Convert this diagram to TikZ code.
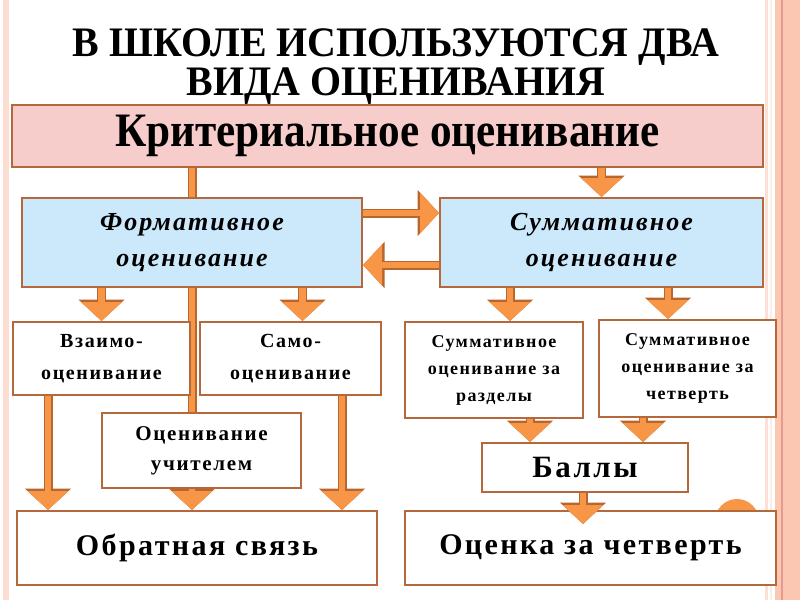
\documentclass[tikz,border=0pt]{standalone}
\usepackage{fontspec}
\setmainfont{Liberation Serif}
\newfontfamily\titlefont{Liberation Serif}[FakeStretch=0.95]
\newfontfamily\critfont{Liberation Serif}[FakeStretch=0.9]
\newfontfamily\boxfont{Liberation Serif}[LetterSpace=8]
\usetikzlibrary{arrows.meta,backgrounds}
\definecolor{arrorange}{HTML}{F79646}
\definecolor{arrbrown}{HTML}{B8652E}
\definecolor{boxbrown}{HTML}{B4683C}
\definecolor{critpink}{HTML}{F6CDCB}
\definecolor{formblue}{HTML}{CCE9FB}
\definecolor{bandpink}{HTML}{FBC6B2}
\tikzset{
  box/.style={draw=boxbrown, line width=2pt, fill=white, align=center,
    inner sep=0pt, font=\boxfont\bfseries},
  blockarrow/.style={line width=6.5pt, draw=arrorange,
    -{Triangle[length=19pt,width=40pt]},
    preaction={draw=arrbrown, line width=9pt, -{Triangle[length=21.5pt,width=45pt]}}},
}
\begin{document}
\begin{tikzpicture}[x=1pt, y=-1pt]
  \useasboundingbox (0,0) rectangle (800,600);
  % Slide frame
  \fill[bandpink!60] (3,0) rectangle (9,600);
  \fill[bandpink!55] (765,0) rectangle (768,600);
  \fill[bandpink!35] (770,0) rectangle (772,600);
  \fill[bandpink] (775,0) rectangle (800,600);
  \fill[bandpink!80!red!90!black!90] (781,0) rectangle (783,600);
  % Title
  \node[font=\titlefont\bfseries\fontsize{42}{39}\selectfont, align=center] (title) at (396,67)
    {В ШКОЛЕ ИСПОЛЬЗУЮТСЯ ДВА\\ВИДА ОЦЕНИВАНИЯ};
  % Boxes
  \node[box, fill=critpink, minimum width=751pt, minimum height=62pt,
    font=\critfont\bfseries\fontsize{48}{50}\selectfont] (crit) at (387.5,136) {Критериальное оценивание};
  \node[box, fill=formblue, minimum width=340pt, minimum height=89pt,
    font=\boxfont\bfseries\itshape\fontsize{26}{36}\selectfont] (form) at (192,242.5)
    {Формативное\\оценивание};
  \node[box, fill=formblue, minimum width=323pt, minimum height=89pt,
    font=\boxfont\bfseries\itshape\fontsize{26}{36}\selectfont] (summ) at (601.5,242.5)
    {Суммативное\\оценивание};
  \node[box, minimum width=177pt, minimum height=73pt,
    font=\boxfont\bfseries\fontsize{20}{32}\selectfont] (vzaim) at (101.5,358.5)
    {Взаимо-\\оценивание};
  \node[box, minimum width=181pt, minimum height=73pt,
    font=\boxfont\bfseries\fontsize{20}{32}\selectfont] (samo) at (290.5,358.5)
    {Само-\\оценивание};
  \node[box, minimum width=178pt, minimum height=96pt,
    font=\boxfont\bfseries\fontsize{18}{27}\selectfont] (razd) at (494,370)
    {Суммативное\\оценивание за\\разделы};
  \node[box, minimum width=177pt, minimum height=97pt,
    font=\boxfont\bfseries\fontsize{18}{27}\selectfont] (chetv) at (687.5,368.5)
    {Суммативное\\оценивание за\\четверть};
  \node[box, minimum width=199pt, minimum height=75pt,
    font=\boxfont\bfseries\fontsize{21}{30}\selectfont] (uchit) at (201.5,450.5)
    {Оценивание\\учителем};
  \node[box, minimum width=206pt, minimum height=49pt,
    font=\boxfont\bfseries\fontsize{31}{34}\selectfont] (bally) at (585,467.5) {Баллы};
  \node[box, minimum width=360pt, minimum height=74pt,
    font=\boxfont\bfseries\fontsize{30}{34}\selectfont] (feedb) at (197,548) {Обратная связь};
  \node[box, minimum width=371pt, minimum height=74pt,
    font=\boxfont\bfseries\fontsize{30}{34}\selectfont] (mark) at (590.5,548) {Оценка за четверть};
  % Arrows behind the boxes
  \begin{scope}[on background layer]
    \fill[arrorange] (737,521) circle (22pt);
    \draw[blockarrow] (crit.south -| form.south) -- (feedb.north -| form.south);
    \draw[blockarrow] (crit.south -| summ.north) -- (summ.north);
    \draw[blockarrow] ([yshift=29.5pt]form.east) -- ([yshift=29.5pt]form.east -| summ.west);
    \draw[blockarrow] ([yshift=-22.5pt]summ.west) -- ([yshift=-22.5pt]summ.west -| form.east);
    \draw[blockarrow] (form.south -| vzaim.north) -- (vzaim.north);
    \draw[blockarrow] ([xshift=12pt]samo.north |- form.south) -- ([xshift=12pt]samo.north);
    \draw[blockarrow] ([xshift=16pt]razd.north |- summ.south) -- ([xshift=16pt]razd.north);
    \draw[blockarrow] ([xshift=-19.5pt]chetv.north |- summ.south) -- ([xshift=-19.5pt]chetv.north);
    \draw[blockarrow] ([xshift=-53.5pt]vzaim.south) -- ([xshift=-53.5pt]vzaim.south |- feedb.north);
    \draw[blockarrow] ([xshift=51.5pt]samo.south) -- ([xshift=51.5pt]samo.south |- feedb.north);
    \draw[blockarrow] ([xshift=36pt]razd.south) -- ([xshift=36pt]razd.south |- bally.north);
    \draw[blockarrow] ([xshift=-44.5pt]chetv.south) -- ([xshift=-44.5pt]chetv.south |- bally.north);
  \end{scope}
  \draw[blockarrow] ([xshift=-2pt]bally.south) -- ([xshift=-2pt,yshift=-14pt]bally.south |- mark.north);
\end{tikzpicture}
\end{document}
